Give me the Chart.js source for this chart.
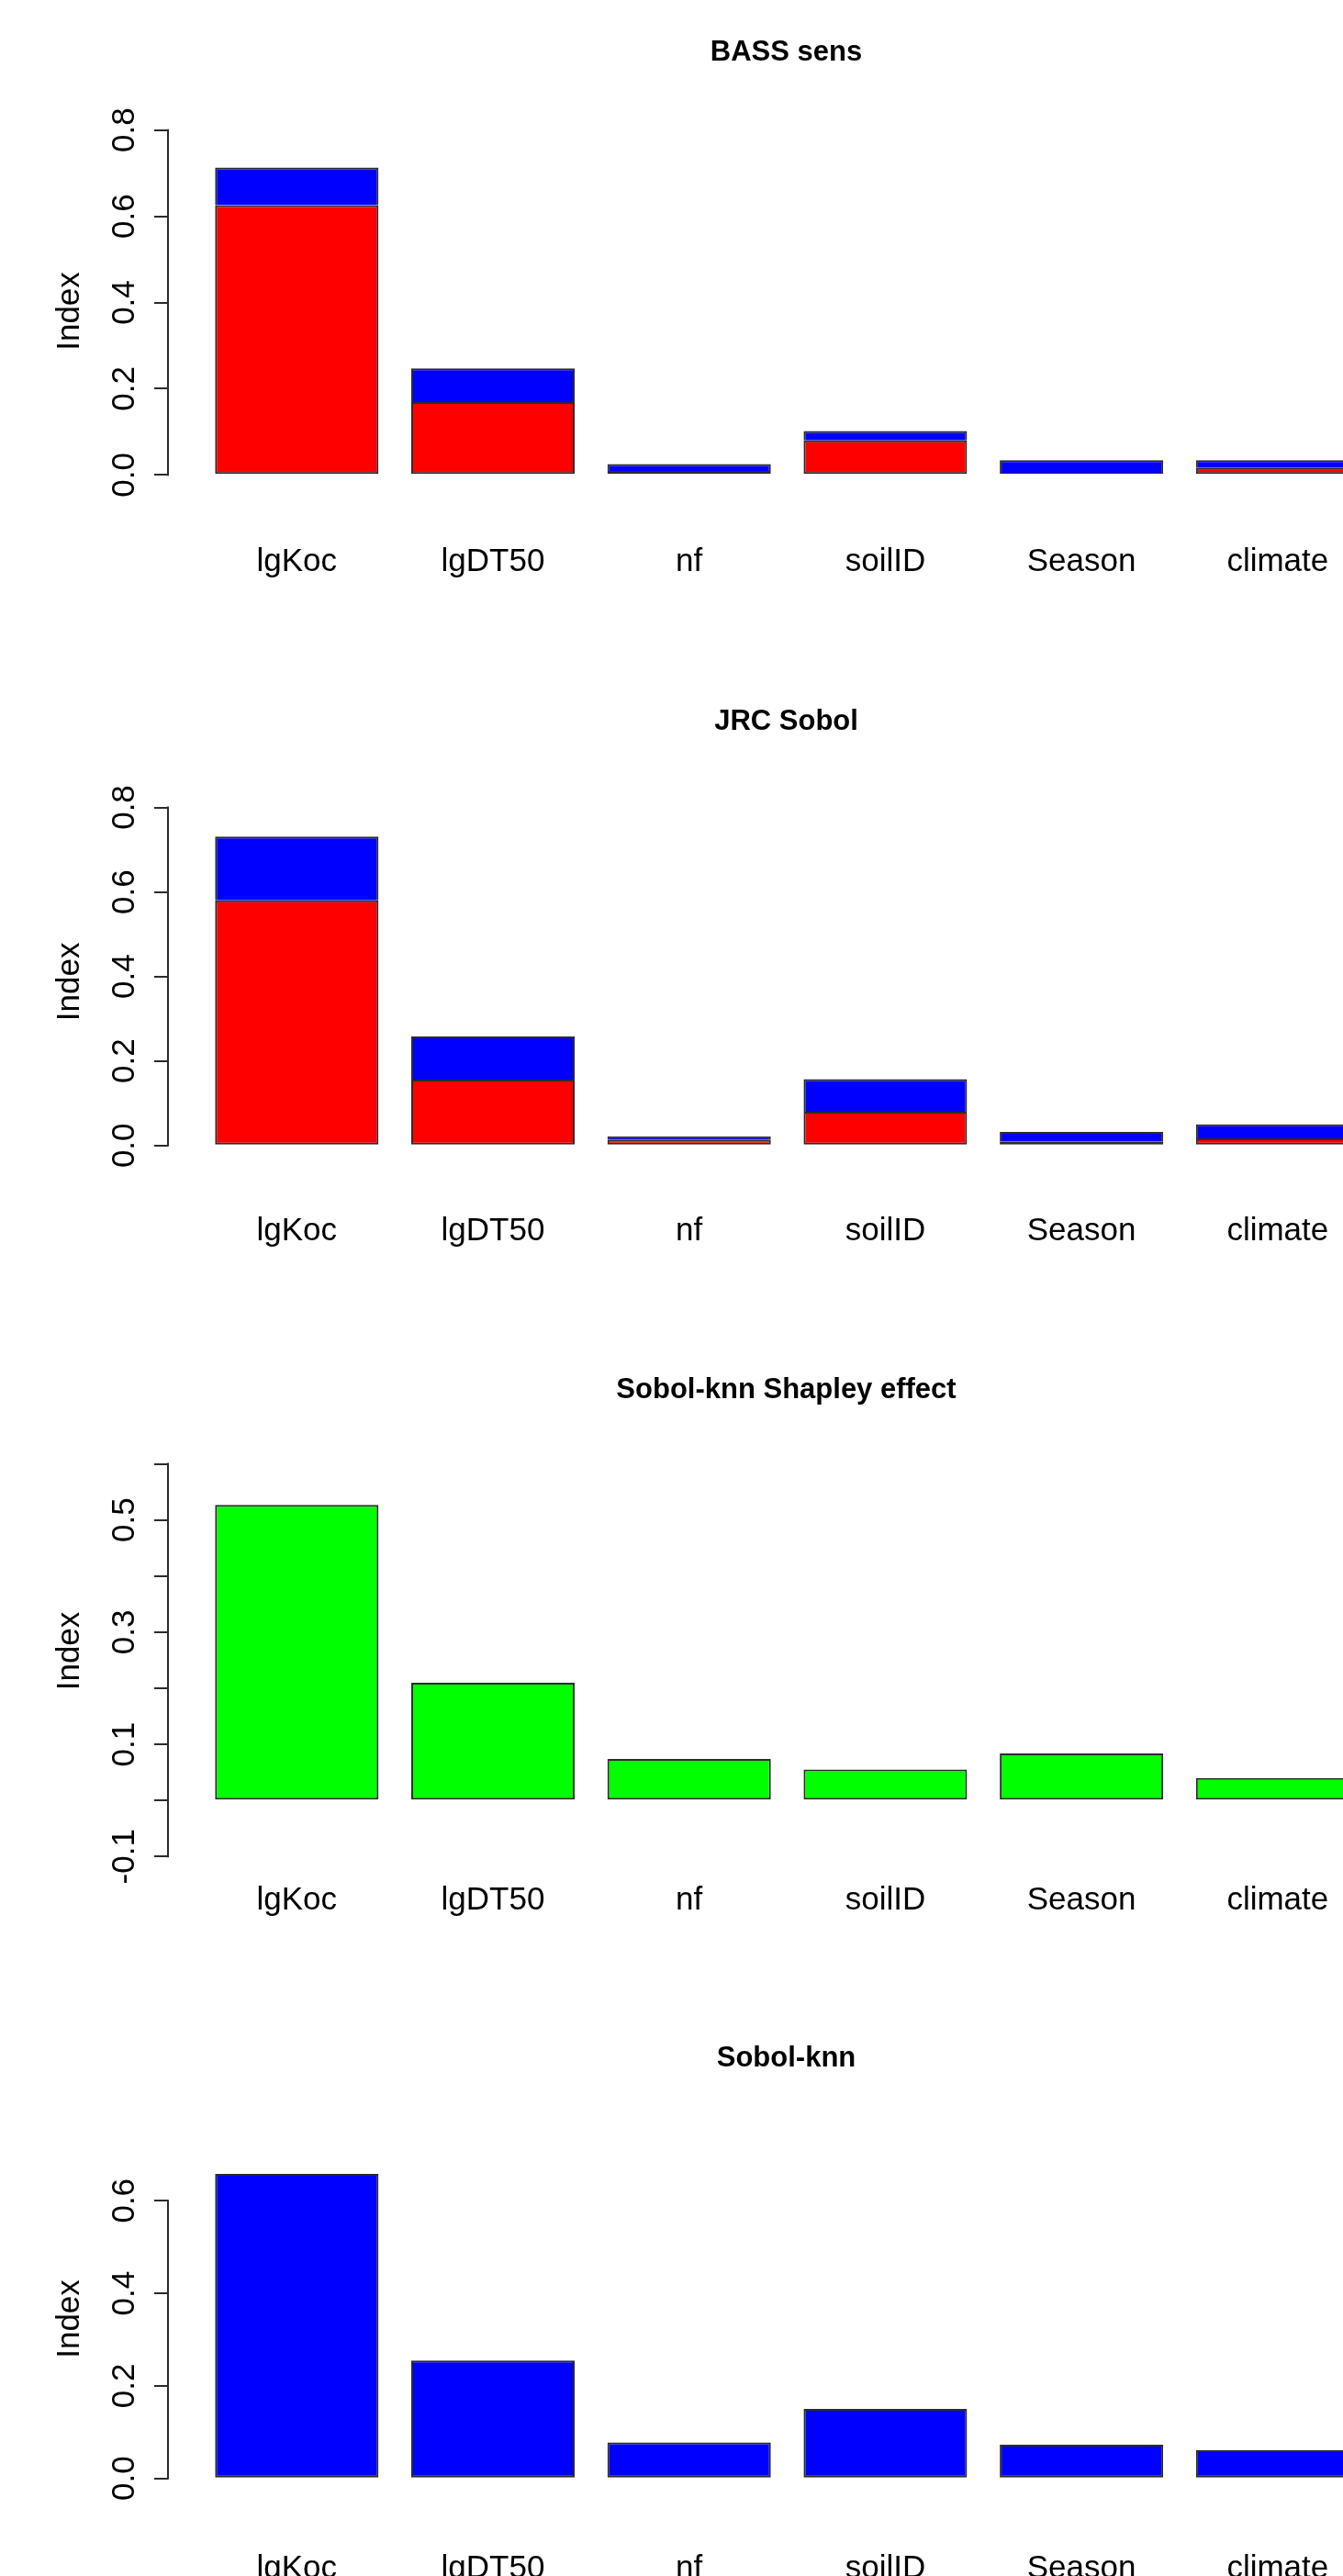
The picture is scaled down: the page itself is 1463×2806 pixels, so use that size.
<!DOCTYPE html>
<html>
<head>
<meta charset="utf-8">
<title>Sensitivity indices</title>
<script src="https://cdn.jsdelivr.net/npm/chart.js@4/dist/chart.umd.min.js"></script>
<style>
  html, body { margin: 0; padding: 0; background: #fff; }
  body { width: 1463px; height: 2806px; overflow: hidden; position: relative; }
  canvas { position: absolute; left: 0; }
</style>
</head>
<body>
<canvas id="bass" width="1560" height="632" style="top:17px"></canvas>
<canvas id="jrc" width="1560" height="632" style="top:746px"></canvas>
<canvas id="shapley" width="1560" height="633" style="top:1474px"></canvas>
<canvas id="knn" width="1560" height="632" style="top:2203px"></canvas>
<script>
// ---- data ----
const categories = ['lgKoc', 'lgDT50', 'nf', 'soilID', 'Season', 'climate'];

// BASS sens: first-order index (red) and the remaining part of the total index (blue)
const bassFirst = [0.626, 0.169, 0.009, 0.080, 0.005, 0.016];
const bassRest  = [0.087, 0.078, 0.016, 0.022, 0.029, 0.018];

// JRC Sobol: first-order index (red) and the remaining part of the total index (blue)
const jrcFirst = [0.580, 0.156, 0.014, 0.080, 0.010, 0.017];
const jrcRest  = [0.151, 0.102, 0.007, 0.077, 0.022, 0.033];

// Sobol-knn Shapley effect
const shapleyEffect = [0.527, 0.210, 0.074, 0.055, 0.084, 0.040];

// Sobol-knn
const knnIndex = [0.658, 0.255, 0.078, 0.150, 0.073, 0.061];

// y-axis ticks and their labels
const ticksTo08 = [0, 0.2, 0.4, 0.6, 0.8];
const labelsTo08 = ['0.0', '0.2', '0.4', '0.6', '0.8'];
const shapleyTicks = [-0.1, 0, 0.1, 0.2, 0.3, 0.4, 0.5, 0.6];
const shapleyTickLabels = ['-0.1', '', '0.1', '', '0.3', '', '0.5', ''];
const knnTicks = [0, 0.2, 0.4, 0.6];
const knnTickLabels = ['0.0', '0.2', '0.4', '0.6'];

// ---- styling ----
const FONT = "'Liberation Sans', Arial, Helvetica, sans-serif";
const INK = '#2b2b2b';
const LINE = 2;
Chart.defaults.font.family = FONT;
Chart.defaults.color = '#000';

const RED = '#ff0000', BLUE = '#0000ff', GREEN = '#00ff00';

const points = (vals) => vals.map((v, i) => ({ x: i, y: v }));

const fullBorder = { top: LINE, right: LINE, bottom: LINE, left: LINE };
const openBottom = { top: LINE, right: LINE, bottom: 0, left: LINE };

function series(vals, color, border) {
  return {
    data: points(vals),
    backgroundColor: color,
    borderColor: INK,
    borderWidth: border,
    borderSkipped: false,
    categoryPercentage: 1,
    barPercentage: 0.833
  };
}

// y axis line drawn only between the lowest and the highest tick
const tickSpanAxis = {
  id: 'tickSpanAxis',
  beforeDatasetsDraw(chart) {
    const s = chart.scales.y;
    const t = s.ticks;
    if (!t.length) return;
    const yTop = s.getPixelForValue(t[t.length - 1].value);
    const yBottom = s.getPixelForValue(t[0].value);
    const x = Math.round(s.right);
    const ctx = chart.ctx;
    ctx.save();
    ctx.strokeStyle = INK;
    ctx.lineWidth = LINE;
    ctx.lineCap = 'butt';
    ctx.beginPath();
    ctx.moveTo(x, yTop - LINE / 2);
    ctx.lineTo(x, yBottom + LINE / 2);
    ctx.stroke();
    ctx.restore();
  }
};

function panel(id, title, datasets, yTicks, yLabels, box) {
  new Chart(document.getElementById(id), {
    type: 'bar',
    data: { datasets },
    plugins: [tickSpanAxis],
    options: {
      responsive: false,
      animation: false,
      events: [],
      layout: { padding: { top: 0, left: 0, right: 30, bottom: 20 } },
      plugins: {
        legend: { display: false },
        tooltip: { enabled: false },
        title: {
          display: true,
          text: title,
          fullSize: false,
          color: '#000',
          font: { family: FONT, size: 31, weight: 'bold' },
          padding: { top: box.titleTop, bottom: box.titleBottom }
        }
      },
      scales: {
        x: {
          type: 'linear',
          stacked: true,
          offset: false,
          min: -0.6565,
          max: 5.6465,
          grid: { display: false },
          border: { display: false },
          afterBuildTicks: (s) => { s.ticks = categories.map((_, i) => ({ value: i })); },
          afterFit: (s) => { s.height = 42 + box.labelGap; },
          ticks: {
            autoSkip: false,
            maxRotation: 0,
            padding: box.labelGap - 4,
            font: { family: FONT, size: 35 },
            color: '#000',
            callback: (v) => categories[v]
          }
        },
        y: {
          type: 'linear',
          stacked: true,
          min: box.yMin,
          max: box.yMax,
          afterBuildTicks: (s) => { s.ticks = yTicks.map((v) => ({ value: v })); },
          afterFit: (s) => { s.width = 183; },
          grid: {
            display: true,
            drawOnChartArea: false,
            drawTicks: true,
            tickLength: 15,
            color: INK,
            lineWidth: LINE
          },
          border: { display: false },
          ticks: {
            autoSkip: false,
            minRotation: 90,
            maxRotation: 90,
            crossAlign: 'center',
            padding: box.tickGap,
            font: { family: FONT, size: 35 },
            color: '#000',
            callback: (v, i) => yLabels[i]
          },
          title: {
            display: true,
            text: 'Index',
            color: '#000',
            font: { family: FONT, size: 35 },
            padding: { top: 55, bottom: 0 }
          }
        }
      }
    }
  });
}

panel('bass', 'BASS sens',
  [series(bassFirst, RED, fullBorder), series(bassRest, BLUE, openBottom)],
  ticksTo08, labelsTo08,
  { titleTop: 21.8, titleBottom: 65.7, yMin: -0.0404, yMax: 0.8, labelGap: 50.7, tickGap: 7.7 });

panel('jrc', 'JRC Sobol',
  [series(jrcFirst, RED, fullBorder), series(jrcRest, BLUE, openBottom)],
  ticksTo08, labelsTo08,
  { titleTop: 21.5, titleBottom: 74.8, yMin: -0.025, yMax: 0.8, labelGap: 56.7, tickGap: 7.7 });

panel('shapley', 'Sobol-knn Shapley effect',
  [series(shapleyEffect, GREEN, fullBorder)],
  shapleyTicks, shapleyTickLabels,
  { titleTop: 21.5, titleBottom: 42.0, yMin: -0.1, yMax: 0.6326, labelGap: 22.7, tickGap: 1.8 });

panel('knn', 'Sobol-knn',
  [series(knnIndex, BLUE, fullBorder)],
  knnTicks, knnTickLabels,
  { titleTop: 21.0, titleBottom: 91.1, yMin: 0, yMax: 0.6892, labelGap: 73.3, tickGap: 7.7 });
</script>
</body>
</html>
